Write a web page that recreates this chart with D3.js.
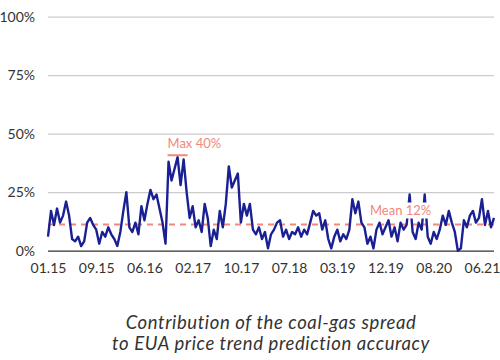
<!DOCTYPE html>
<html><head><meta charset="utf-8">
<script src="https://cdn.jsdelivr.net/npm/d3@7"></script>
<style>body{margin:0;background:#fff}svg{display:block}text{font-family:Lato,"Open Sans",sans-serif}</style>
</head><body><svg id="c" width="500" height="360"></svg>
<script>
const values = [6,17,11,18,12,15,21,15,5,4,6,2,4,12,14,11,
9,3,8,6,10,7,5,2,8,17,25,10,8,12,7,19,
13,20,26,22,24,18,12,3,38,30,35,40,28,39,25,14,
19,10,13,8,20,14,2,9,5,17,10,20,36,27,30,33,
12,20,15,20,9,7,10,5,8,1,7,9,12,13,6,9,
5,8,7,10,6,9,7,12,17,15,16,9,13,5,1,6,
9,4,7,5,9,22,16,21,12,10,3,6,1,9,12,7,
10,13,6,10,4,12,9,11,24,8,5,12,9,24,6,3,
8,5,9,15,11,17,12,8,0,1,13,10,15,17,12,14,
22,11,17,10,14];
const tickLabels = ["01.15","09.15","06.16","02.17","10.17","07.18","03.19","12.19","08.20","06.21"];
const tickEvery = 16;
const yTicks = [0,25,50,75,100];
const meanValue = 11.2;
const meanLabel = "Mean 12%";
const maxValue = 40.8;
const maxLabel = "Max 40%";
const maxSpan = [40,46];
const titleLines = ["Contribution of the coal-gas spread","to EUA price trend prediction accuracy"];

const svg = d3.select("#c");
const x = d3.scaleLinear().domain([0, values.length-1]).range([48, 494]);
const y = d3.scaleLinear().domain([0,100]).range([250.7, 16.7]);
const salmon = "#f4877a";

// grid
const yAxis = d3.axisLeft(y).tickValues(yTicks).tickFormat(d=>d+"%").tickSize(-(494-48)).tickPadding(14);
const ga = svg.append("g").attr("transform","translate(48,0)").call(yAxis);
ga.select(".domain").remove();
ga.selectAll(".tick line").attr("stroke", d=> d===0 ? "#333" : "#ccc").attr("stroke-width", d=> d===0?1.3:1.2);
ga.selectAll(".tick text").attr("font-size",14).attr("fill","#333").attr("x",-13).attr("text-anchor","end");

// x axis
const xTickVals = tickLabels.map((_,i)=>i*tickEvery);
const xAxis = d3.axisBottom(x).tickValues(xTickVals).tickFormat((d,i)=>tickLabels[i]).tickSize(0).tickPadding(12);
const gx = svg.append("g").attr("transform","translate(0,251)").call(xAxis);
gx.select(".domain").remove();
gx.selectAll(".tick text").attr("font-size",14).attr("fill","#333");

// mean line
svg.append("line").attr("x1",x(0)).attr("x2",x(values.length-1)).attr("y1",y(meanValue)).attr("y2",y(meanValue))
  .attr("stroke",salmon).attr("stroke-width",2).attr("stroke-dasharray","6,5");

// data line
const line = d3.line().x((d,i)=>x(i)).y(d=>y(d)).curve(d3.curveLinear);
svg.append("path").datum(values).attr("d",line).attr("fill","none").attr("stroke","#1a2093").attr("stroke-width",2.4).attr("stroke-linejoin","round");

// max marker
svg.append("line").attr("x1",x(maxSpan[0])-1).attr("x2",x(maxSpan[1])+1).attr("y1",y(maxValue)).attr("y2",y(maxValue))
  .attr("stroke",salmon).attr("stroke-width",2);
svg.append("text").attr("x",x(maxSpan[0])-1).attr("y",y(maxValue)-7).text(maxLabel).attr("fill",salmon).attr("font-size",13);

// mean label with white background
const mg = svg.append("g");
const mr = mg.append("rect").attr("fill","#fff");
const mt = mg.append("text").attr("x",370).attr("y",y(meanValue)-9).text(meanLabel).attr("fill",salmon).attr("font-size",13);
const bb = mt.node().getBBox();
mr.attr("x",bb.x-2).attr("y",bb.y).attr("width",bb.width+4).attr("height",bb.height);

// title
svg.append("g").selectAll("text").data(titleLines).join("text")
  .attr("x",271).attr("y",(d,i)=>329+i*21).attr("text-anchor","middle")
  .attr("font-size",18.5).attr("letter-spacing",0.6).attr("font-style","italic").attr("fill","#333").text(d=>d);
</script></body></html>
